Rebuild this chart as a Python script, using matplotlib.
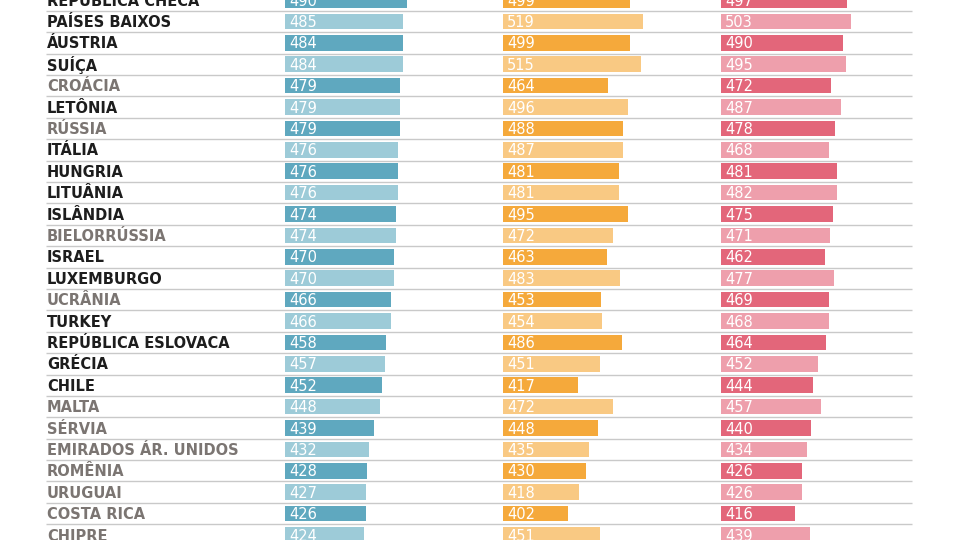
import numpy as np
import matplotlib
matplotlib.use('Agg')
import matplotlib.pyplot as plt

plt.rcParams['font.family'] = ['DejaVu Sans']

countries = ['REPÚBLICA CHECA', 'PAÍSES BAIXOS', 'ÁUSTRIA', 'SUÍÇA', 'CROÁCIA',
             'LETÔNIA', 'RÚSSIA', 'ITÁLIA', 'HUNGRIA', 'LITUÂNIA', 'ISLÂNDIA',
             'BIELORRÚSSIA', 'ISRAEL', 'LUXEMBURGO', 'UCRÂNIA', 'TURKEY',
             'REPÚBLICA ESLOVACA', 'GRÉCIA', 'CHILE', 'MALTA', 'SÉRVIA',
             'EMIRADOS ÁR. UNIDOS', 'ROMÊNIA', 'URUGUAI', 'COSTA RICA', 'CHIPRE']
# True = OCDE (nome em preto), False = fora da OCDE (nome em cinza)
ocde = [True, True, True, True, False, True, False, True, True, True, True,
        False, True, True, False, True, True, True, True, False, False,
        False, False, False, False, False]
leitura = [490, 485, 484, 484, 479, 479, 479, 476, 476, 476, 474, 474, 470,
           470, 466, 466, 458, 457, 452, 448, 439, 432, 428, 427, 426, 424]
matematica = [499, 519, 499, 515, 464, 496, 488, 487, 481, 481, 495, 472, 463,
              483, 453, 454, 486, 451, 417, 472, 448, 435, 430, 418, 402, 451]
ciencias = [497, 503, 490, 495, 472, 487, 478, 468, 481, 482, 475, 471, 462,
            477, 469, 468, 464, 452, 444, 457, 440, 434, 426, 426, 416, 439]

W, H = 960, 540
row_h = 21.4
nrows_view = H / row_h

fig = plt.figure(figsize=(9.6, 5.4), dpi=100)
ax = fig.add_axes([0, 0, 1, 1])
ax.set_xlim(0, W)
ax.set_ylim(nrows_view, 0)
ax.axis('off')

n = len(countries)
y = np.arange(n)

# linhas separadoras
ax.hlines(y + 0.5, 46, 912, color='#c9c9c9', lw=1.0, zorder=1)

for i, name in enumerate(countries):
    ax.text(47, i + 0.05, name, ha='left', va='center', fontsize=10.5,
            fontweight='bold', color='#1d1d1d' if ocde[i] else '#7b7572')

cols = [(leitura, 285, '#5fa8bf', '#9dcbd8'),
        (matematica, 503, '#f5a93b', '#f9c983'),
        (ciencias, 721, '#e3667a', '#ee9fac')]

base = 300
scale = 0.64  # px por ponto
ax_w = 200
for vals, x0, dark, light in cols:
    bx = fig.add_axes([x0 / W, 0, ax_w / W, 1])
    bx.set_xlim(base, base + ax_w / scale)
    bx.set_ylim(nrows_view, 0)
    bx.axis('off')
    colors = [dark if i % 2 == 0 else light for i in range(n)]
    bx.barh(y, np.array(vals) - base, left=base, height=0.72, color=colors, zorder=2)
    for i, v in enumerate(vals):
        bx.text(base + 6, i + 0.05, str(v), ha='left', va='center',
                fontsize=10.5, color='white', zorder=3)

fig.savefig('out.png', dpi=100)
